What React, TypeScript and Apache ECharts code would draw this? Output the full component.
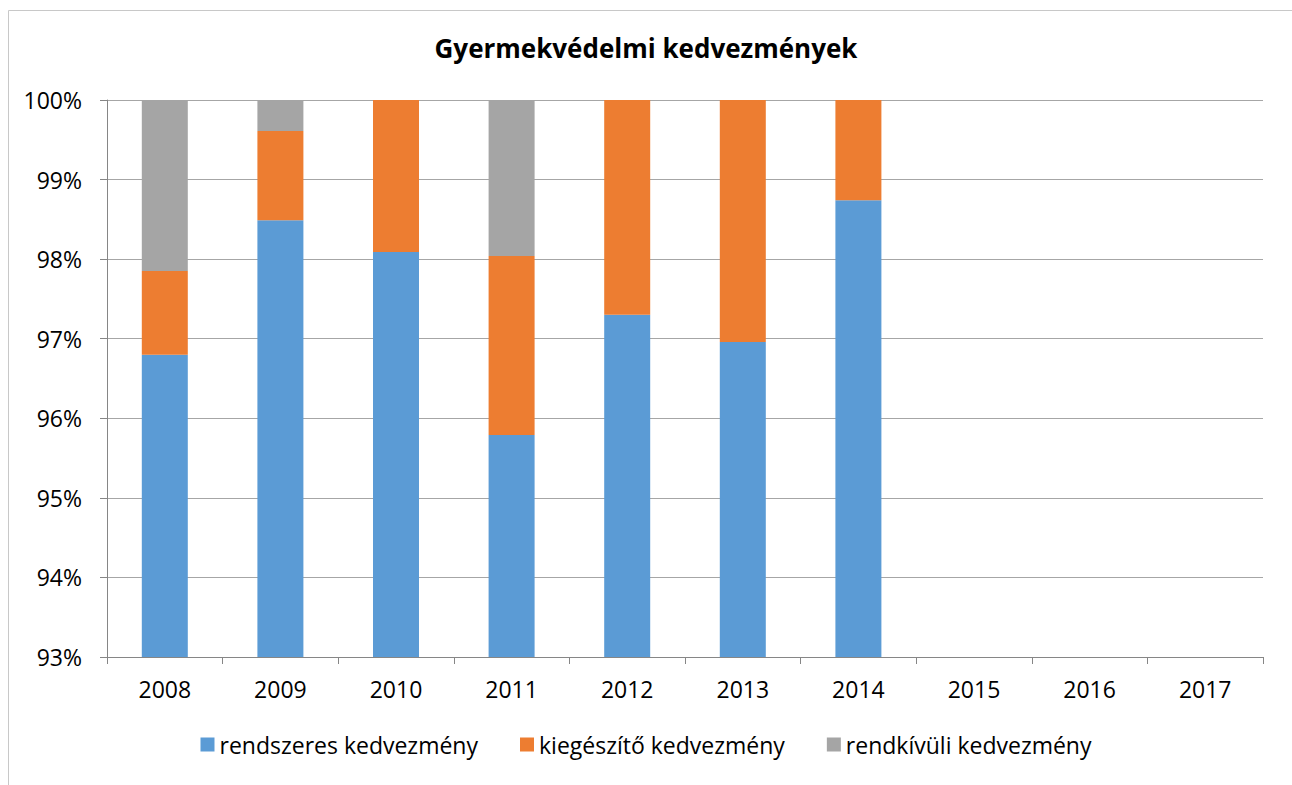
import React, { useEffect, useRef } from "react";
import * as echarts from "echarts";

const years = ["2008", "2009", "2010", "2011", "2012", "2013", "2014", "2015", "2016", "2017"];
const rendszeres = [96.8, 98.49, 98.09, 95.79, 97.3, 96.96, 98.74, null, null, null];
const kiegeszito = [1.05, 1.12, 1.91, 2.25, 2.7, 3.04, 1.26, null, null, null];
const rendkivuli = [2.15, 0.39, 0, 1.96, 0, 0, 0, null, null, null];
const seriesNames = ["rendszeres kedvezmény", "kiegészítő kedvezmény", "rendkívüli kedvezmény"];
const colors = ["#5B9BD5", "#ED7D31", "#A5A5A5"];

const FONT = "'Open Sans', Lato, sans-serif";

export default function App() {
  const ref = useRef<HTMLDivElement>(null);
  useEffect(() => {
    if (!ref.current) return;
    const chart = echarts.init(ref.current, undefined, { renderer: "svg" });
    const datas = [rendszeres, kiegeszito, rendkivuli];
    chart.setOption({
      animation: false,
      textStyle: { fontFamily: FONT },
      title: {
        text: "Gyermekvédelmi kedvezmények",
        left: "center",
        top: 30,
        textStyle: { fontFamily: FONT, fontSize: 26, fontWeight: "bold", color: "#000" },
      },
      graphic: [
        {
          type: "rect",
          left: 6,
          top: 8,
          shape: { width: 1400, height: 900 },
          style: { fill: "none", stroke: "#c8c8c8", lineWidth: 1 },
          silent: true,
        },
      ],
      legend: {
        bottom: 24,
        left: "center",
        itemWidth: 14,
        itemHeight: 14,
        itemGap: 42,
        icon: "rect",
        textStyle: { fontFamily: FONT, fontSize: 23, color: "#000" },
        data: seriesNames,
      },
      grid: { left: 107, right: 29, top: 100, bottom: 128, containLabel: false },
      xAxis: {
        type: "category",
        data: years,
        axisLine: { lineStyle: { color: "#868686", width: 1 } },
        axisTick: { show: true, length: 7, lineStyle: { color: "#868686" } },
        axisLabel: { fontFamily: FONT, fontSize: 23, color: "#000", margin: 20 },
      },
      yAxis: {
        type: "value",
        min: 93,
        max: 100,
        interval: 1,
        axisLine: { show: true, lineStyle: { color: "#868686", width: 1 } },
        axisTick: { show: true, length: 7, lineStyle: { color: "#868686" } },
        axisLabel: {
          fontFamily: FONT,
          fontSize: 23,
          color: "#000",
          margin: 25,
          formatter: (v: number) => `${v}%`,
        },
        splitLine: { lineStyle: { color: "#a6a6a6", width: 1 } },
      },
      series: seriesNames.map((name, i) => ({
        name,
        type: "bar",
        stack: "total",
        barWidth: 46,
        data: datas[i],
        itemStyle: { color: colors[i] },
      })),
    });
    return () => chart.dispose();
  }, []);
  return (
    <div
      ref={ref}
      style={{ position: "absolute", left: 0, top: 0, width: 1292, height: 785, background: "#fff" }}
    />
  );
}
